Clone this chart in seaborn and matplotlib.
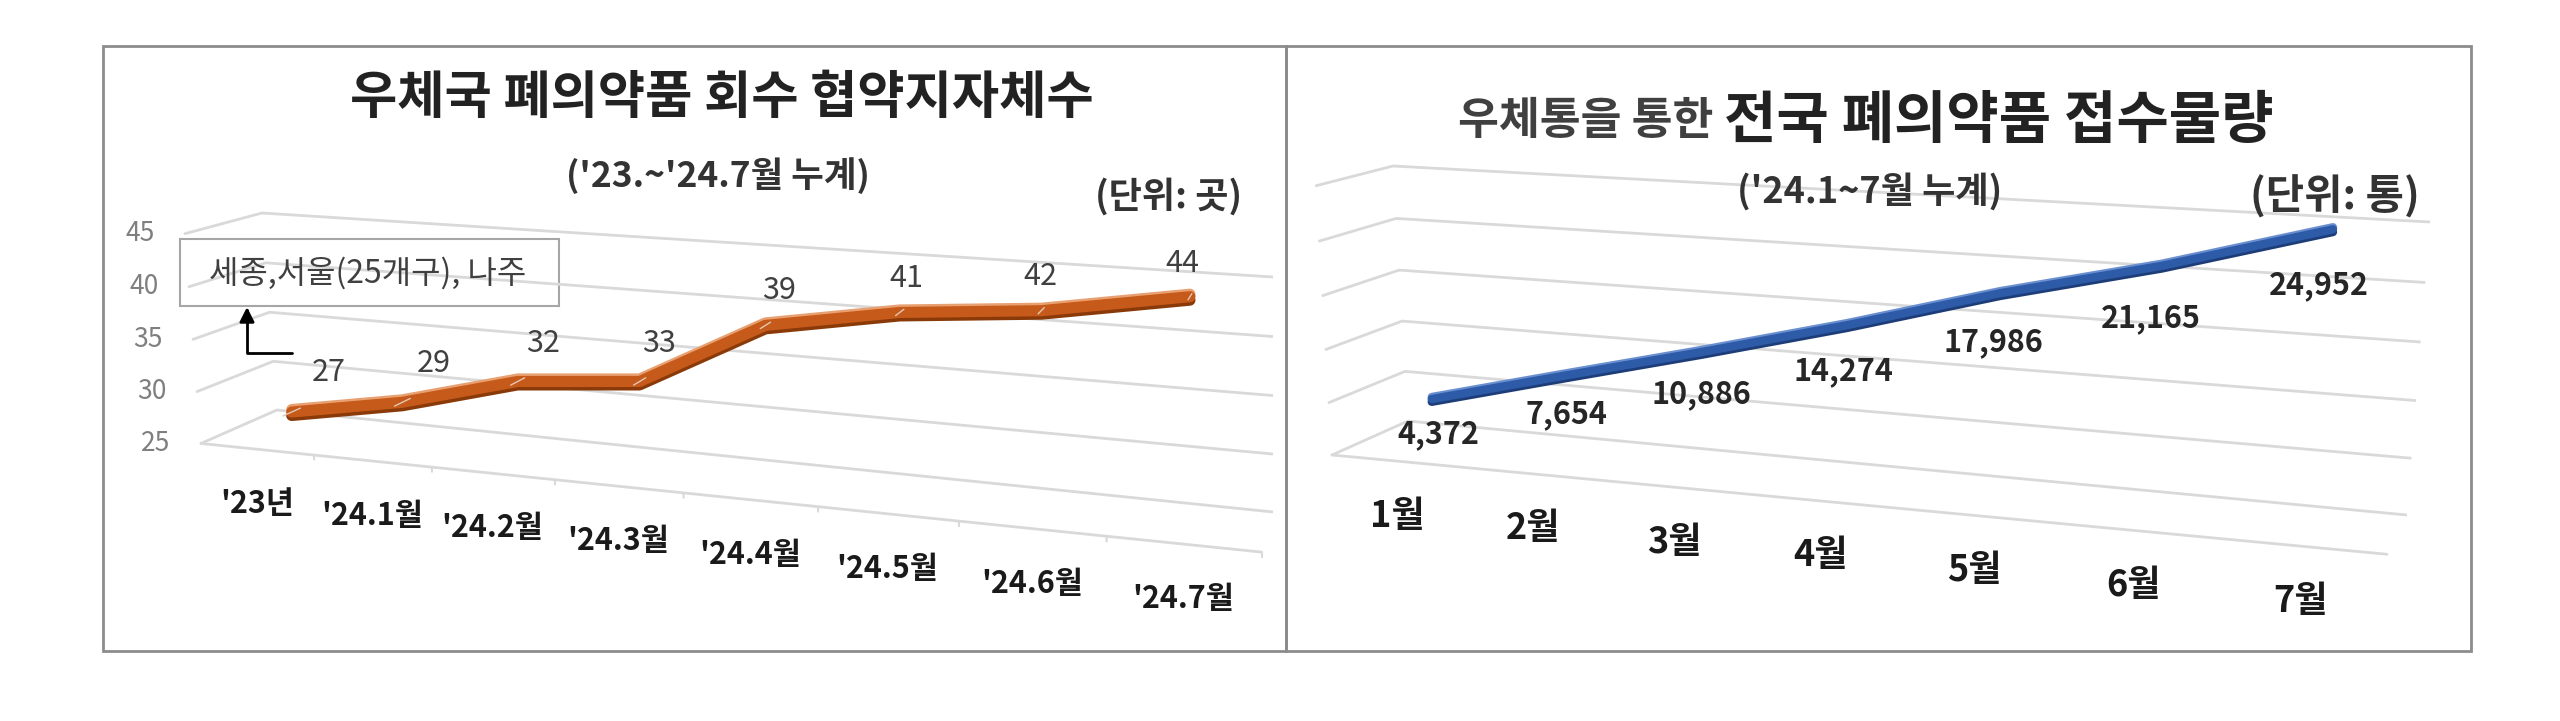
import numpy as np
import matplotlib
matplotlib.use('Agg')
import matplotlib.pyplot as plt
import matplotlib.transforms as mtransforms
import matplotlib.patheffects as pe
from matplotlib.patches import Rectangle
import seaborn as sns

# ---------------- data ----------------
cats_left = ["'23년", "'24.1월", "'24.2월", "'24.3월", "'24.4월", "'24.5월", "'24.6월", "'24.7월"]
vals_left = [27, 29, 32, 33, 39, 41, 42, 44]
ticks_left = [25, 30, 35, 40, 45]

cats_right = ['1월', '2월', '3월', '4월', '5월', '6월', '7월']
vals_right = [4372, 7654, 10886, 14274, 17986, 21165, 24952]
ticks_right = [0, 5000, 10000, 15000, 20000, 25000]

sns.set_theme(style='white')
plt.rcParams['font.family'] = ['Noto Sans CJK KR', 'DejaVu Sans']

W, H = 2560, 721
fig = plt.figure(figsize=(W / 100, H / 100), dpi=100)
ax = fig.add_axes([0, 0, 1, 1])
ax.set_axis_off()

# reference pixel coords (y down) -> figure
pix = mtransforms.Affine2D().scale(1 / W, -1 / H).translate(0, 1) + fig.transFigure


def homography(src, dst):
    A, b = [], []
    for (x, y), (u, v) in zip(src, dst):
        A.append([x, y, 1, 0, 0, 0, -u * x, -u * y]); b.append(u)
        A.append([0, 0, 0, x, y, 1, -v * x, -v * y]); b.append(v)
    h = np.linalg.solve(np.array(A, float), np.array(b, float))
    return np.append(h, 1).reshape(3, 3)


class Persp(mtransforms.Transform):
    """(category, value) at depth f, or (depth, value) at category i -> pixels"""
    input_dims = output_dims = 2
    is_separable = False
    has_inverse = False

    def __init__(self, geo, f=None, i=None):
        super().__init__()
        self.geo, self.f, self.i = geo, f, i

    def transform_non_affine(self, values):
        p = np.asarray(values, float).reshape(-1, 2)
        n = len(p)
        if self.i is None:
            ii, ff = p[:, 0], np.full(n, self.f)
        else:
            ii, ff = np.full(n, self.i), p[:, 0]
        g = self.geo
        vn = (p[:, 1] - g['vmin']) / (g['vmax'] - g['vmin'])
        h = np.column_stack([ii, vn, np.ones(n)]) @ g['H'].T
        xy = h[:, :2] / h[:, 2:3]
        s = (1 + g['k'] * ff)[:, None]
        return g['vp'] + s * (xy - g['vp'])


def T(geo, f=None, i=None):
    return Persp(geo, f=f, i=i) + pix


# back walls of the two 3D charts (f=0 back, f=1 front)
geo_left = dict(H=homography([(-0.5, 1), (-0.5, 0), (7.5, 1), (7.5, 0)],
                             [(262, 213), (277, 410), (1273, 277), (1273, 512)]),
                vp=np.array([1447., -105.]), k=0.065, vmin=25, vmax=45)
geo_right = dict(H=homography([(-0.5, 1), (-0.5, 0), (6.5, 1), (6.5, 0)],
                              [(1393, 166), (1408, 421), (2430, 222), (2407, 515)]),
                 vp=np.array([2765., -186.]), k=0.056, vmin=0, vmax=25000)

grid_col = '#D9D9D9'


def draw_walls(geo, ticks, n):
    ax.hlines(ticks, -0.5, n - 0.5, transform=T(geo, f=0), colors=grid_col, linewidth=2)
    for v in ticks:
        ax.plot([1, 0], [v, v], transform=T(geo, i=-0.5), color=grid_col, lw=2)
    ax.plot([-0.5, n - 0.5], [ticks[0], ticks[0]], transform=T(geo, f=1), color=grid_col, lw=2)


# =========================================
# left chart
# =========================================
idx_l = np.arange(len(vals_left))
draw_walls(geo_left, ticks_left, len(vals_left))
ax.vlines(idx_l + 0.5, 24.5, 25, transform=T(geo_left, f=1), colors=grid_col, linewidth=1.5)

sns.lineplot(x=idx_l, y=vals_left, ax=ax, transform=T(geo_left, f=0.5), color='#C65A1A',
             linewidth=8, errorbar=None, legend=False, solid_joinstyle='round',
             path_effects=[pe.SimpleLineShadow(offset=(0, -2.5), shadow_color='#8A3A08', alpha=1),
                           pe.SimpleLineShadow(offset=(0, 1.8), shadow_color='#E8A070', alpha=1),
                           pe.Normal()])
# light seams of the 3D ribbon at each point
for i, v in zip(idx_l, vals_left):
    ax.plot([0.38, 0.62], [v, v], transform=T(geo_left, i=i), color='#E2C7B4', lw=1)

for v in ticks_left:
    ax.annotate(str(v), xy=(1, v), xycoords=T(geo_left, i=-0.5), xytext=(-45, 0),
                textcoords='offset pixels', ha='center', va='center', fontsize=19, color='#7F7F7F')
for i, c in enumerate(cats_left):
    ax.annotate(c, xy=(i, 25), xycoords=T(geo_left, f=1), xytext=(0, -55),
                textcoords='offset pixels', ha='center', va='center', fontsize=22,
                fontweight='bold', color='#1A1A1A')
for i, v in enumerate(vals_left):
    ax.annotate(str(v), xy=(i, v), xycoords=T(geo_left, f=-0.3), xytext=(-21, 13),
                textcoords='offset pixels', ha='center', va='center', fontsize=22, color='#404040')

ax.text(722, 97, '우체국 폐의약품 회수 협약지자체수', transform=pix, ha='center', va='center',
        fontsize=37, fontweight='bold', color='#222222')
ax.text(718, 176, "('23.~'24.7월 누계)", transform=pix, ha='center', va='center',
        fontsize=25.5, fontweight='bold', color='#333333')
ax.text(1169, 197, '(단위: 곳)', transform=pix, ha='center', va='center',
        fontsize=26, fontweight='bold', color='#333333')

ax.add_patch(Rectangle((180, 239), 379, 67, transform=pix, facecolor='white',
                       edgecolor='#A6A6A6', lw=1.5))
ax.text(368, 273, '세종,서울(25개구), 나주', transform=pix, ha='center', va='center',
        fontsize=23, color='#404040')
ax.annotate('', xy=(247, 307), xycoords=pix, xytext=(292, 353), textcoords=pix,
            arrowprops=dict(arrowstyle='-|>', connectionstyle='angle,angleA=180,angleB=90,rad=0',
                            color='black', lw=2, shrinkA=0, shrinkB=0, mutation_scale=22))

# =========================================
# right chart
# =========================================
idx_r = np.arange(len(vals_right))
draw_walls(geo_right, ticks_right, len(vals_right))

sns.lineplot(x=idx_r, y=vals_right, ax=ax, transform=T(geo_right, f=0.5), color='#2E5BA8',
             linewidth=6, errorbar=None, legend=False, solid_joinstyle='round',
             path_effects=[pe.SimpleLineShadow(offset=(0, -2), shadow_color='#1D3D78', alpha=1),
                           pe.SimpleLineShadow(offset=(0, 1.5), shadow_color='#6A8FD0', alpha=1),
                           pe.Normal()])

for i, c in enumerate(cats_right):
    ax.annotate(c, xy=(i, 0), xycoords=T(geo_right, f=1), xytext=(0, -55),
                textcoords='offset pixels', ha='center', va='center', fontsize=26,
                fontweight='bold', color='#1A1A1A')
for i, v in enumerate(vals_right):
    # labels drift further below the ribbon toward the right end
    ax.annotate(f'{v:,}', xy=(i, v), xycoords=T(geo_right, f=0.5), xytext=(7 - 3.5 * i, -35 - 3.5 * i),
                textcoords='offset pixels', ha='center', va='center', fontsize=22,
                fontweight='bold', color='#262626')

ax.text(1713, 121, '우체통을 통한', transform=pix, ha='right', va='center',
        fontsize=32, fontweight='bold', color='#404040')
ax.text(1724, 121, '전국 폐의약품 접수물량', transform=pix, ha='left', va='center',
        fontsize=41, fontweight='bold', color='#222222')
ax.text(1870, 192, "('24.1~7월 누계)", transform=pix, ha='center', va='center',
        fontsize=26, fontweight='bold', color='#333333')
ax.text(2335, 197, '(단위: 통)', transform=pix, ha='center', va='center',
        fontsize=30, fontweight='bold', color='#333333')

# panel frames
for x0, w in [(103, 1183), (1286, 1185)]:
    ax.add_patch(Rectangle((x0, 46), w, 605, transform=pix, fill=False,
                           edgecolor='#8C8C8C', lw=2))

fig.savefig('out.png', dpi=100)
